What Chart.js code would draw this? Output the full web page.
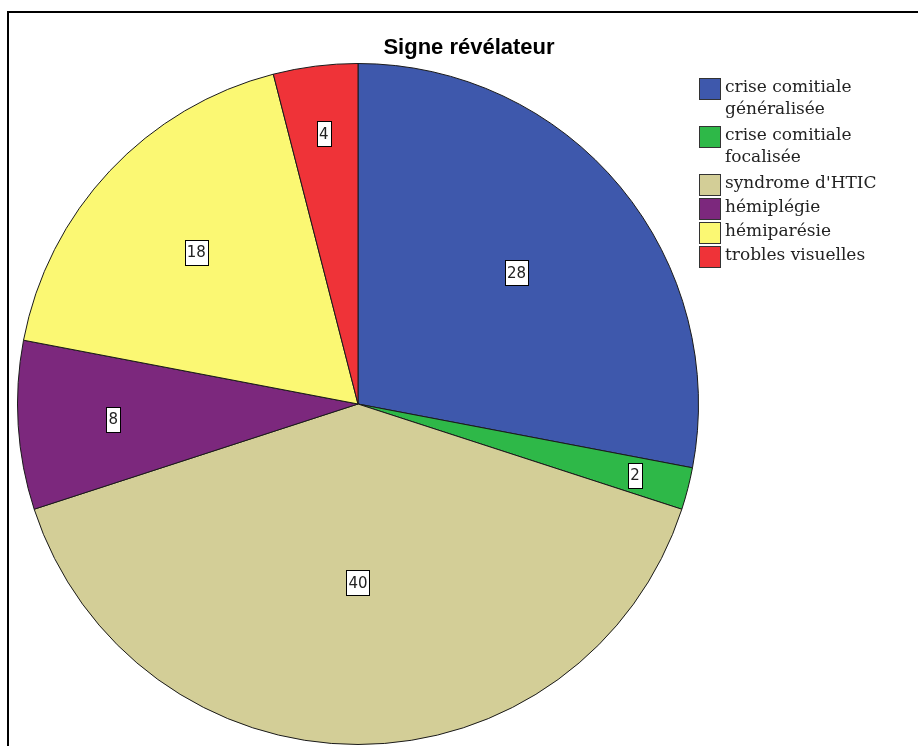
<!DOCTYPE html>
<html>
<head>
<meta charset="utf-8">
<script src="https://cdn.jsdelivr.net/npm/chart.js@4/dist/chart.umd.min.js"></script>
<style>
    html, body { margin: 0; padding: 0; background: #fff; }
    canvas { display: block; }
</style>
</head>
<body>
<canvas id="signeChart" width="918" height="746"></canvas>
<script>
    // --- DONNÉES ---
    const chartTitle = 'Signe révélateur';
    const categories = [
        ['crise comitiale', 'généralisée'],
        ['crise comitiale', 'focalisée'],
        ["syndrome d'HTIC"],
        ['hémiplégie'],
        ['hémiparésie'],
        ['trobles visuelles']
    ];
    const counts = [28, 2, 40, 8, 18, 4];
    const sliceColors = ['#3E58AC', '#2EB848', '#D3CE97', '#7C287D', '#FBF873', '#EF3338'];

    // Cadre + titre
    const framePlugin = {
        id: 'frame',
        beforeDraw(chart) {
            const ctx = chart.ctx;
            ctx.save();
            ctx.fillStyle = '#fff';
            ctx.fillRect(0, 0, chart.width, chart.height);
            ctx.strokeStyle = '#000';
            ctx.lineWidth = 2;
            ctx.beginPath();
            ctx.moveTo(8, chart.height);
            ctx.lineTo(8, 12);
            ctx.lineTo(chart.width, 12);
            ctx.stroke();

            ctx.fillStyle = '#000';
            ctx.font = 'bold 22px "Liberation Sans", Arial, sans-serif';
            ctx.textAlign = 'center';
            ctx.textBaseline = 'alphabetic';
            ctx.fillText(chartTitle, 469, 54);
            ctx.restore();
        }
    };

    // Étiquettes encadrées avec les effectifs
    const valueLabelPlugin = {
        id: 'valueLabels',
        afterDatasetsDraw(chart) {
            const ctx = chart.ctx;
            const meta = chart.getDatasetMeta(0);
            const data = chart.data.datasets[0].data;
            const total = data.reduce((a, b) => a + b, 0);
            ctx.save();
            ctx.font = '15px "DejaVu Sans", sans-serif';
            ctx.textAlign = 'center';
            ctx.textBaseline = 'middle';
            meta.data.forEach((arc, i) => {
                const p = arc.getProps(['x', 'y', 'startAngle', 'endAngle', 'outerRadius'], true);
                const share = data[i] / total;
                const alpha = p.endAngle - p.startAngle;
                // centre de gravité du secteur, repoussé vers l'extérieur pour les petites parts
                const centroid = 4 * Math.sin(alpha / 2) / (3 * alpha);
                const d = Math.max(centroid + 0.02, 0.88 - 2 * share) * p.outerRadius;
                const mid = (p.startAngle + p.endAngle) / 2;
                const cx = p.x + Math.cos(mid) * d;
                const cy = p.y + Math.sin(mid) * d;
                const txt = String(data[i]);
                const w = Math.round(ctx.measureText(txt).width) + 4;
                const h = 25;
                const bx = Math.round(cx - w / 2) + 0.5;
                const by = Math.round(cy - h / 2) + 0.5;
                ctx.fillStyle = '#fff';
                ctx.fillRect(bx, by, w, h);
                ctx.strokeStyle = '#000';
                ctx.lineWidth = 1;
                ctx.strokeRect(bx, by, w, h);
                ctx.fillStyle = '#222';
                ctx.fillText(txt, cx, cy + 1);
            });
            ctx.restore();
        }
    };

    // Légende à droite
    const legendPlugin = {
        id: 'sideLegend',
        afterDraw(chart) {
            const ctx = chart.ctx;
            const colors = chart.data.datasets[0].backgroundColor;
            const lineH = 22;
            let top = 77;
            ctx.save();
            ctx.font = '17px "DejaVu Serif", serif';
            ctx.textAlign = 'left';
            ctx.textBaseline = 'alphabetic';
            chart.data.labels.forEach((lbl, i) => {
                ctx.fillStyle = colors[i];
                ctx.fillRect(699.5, top + 1.5, 21, 21);
                ctx.strokeStyle = '#333';
                ctx.lineWidth = 1;
                ctx.strokeRect(699.5, top + 1.5, 21, 21);
                ctx.fillStyle = '#222';
                lbl.forEach((line, j) => {
                    ctx.fillText(line, 725, top + 15 + j * lineH);
                });
                top += lbl.length > 1 ? lbl.length * lineH + 4 : 24;
            });
            ctx.restore();
        }
    };

    const ctx = document.getElementById('signeChart').getContext('2d');
    new Chart(ctx, {
        type: 'pie',
        data: {
            labels: categories,
            datasets: [{
                data: counts,
                backgroundColor: sliceColors,
                borderColor: '#1a1a1a',
                borderWidth: 1
            }]
        },
        options: {
            responsive: false,
            animation: false,
            layout: {
                padding: { left: 17, top: 63, right: 219, bottom: 1 }
            },
            plugins: {
                legend: { display: false },
                tooltip: { enabled: false },
                title: { display: false }
            }
        },
        plugins: [framePlugin, valueLabelPlugin, legendPlugin]
    });
</script>
</body>
</html>
